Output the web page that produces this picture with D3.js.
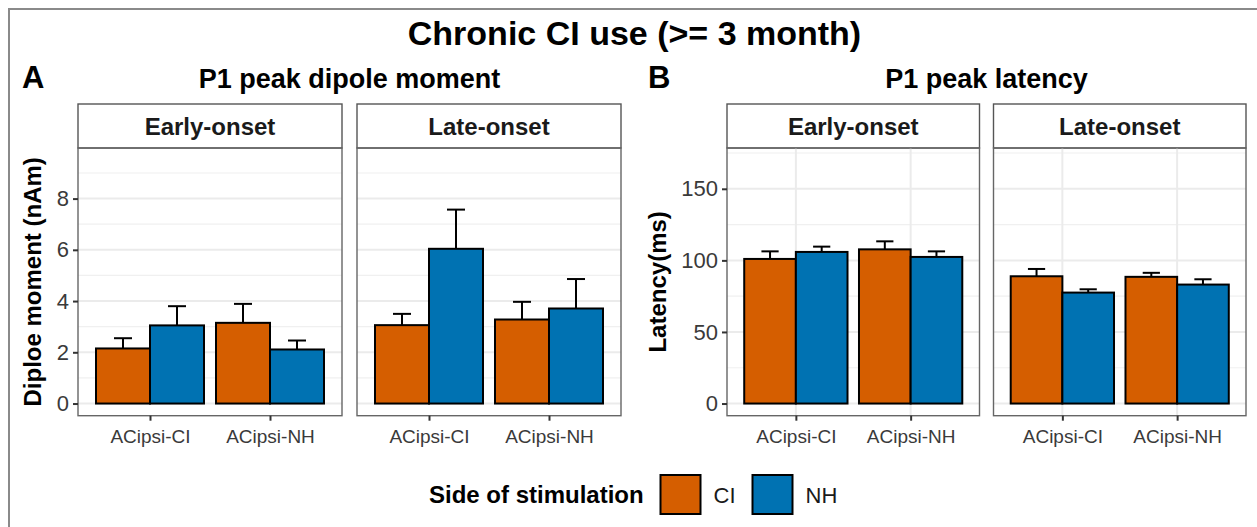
<!DOCTYPE html>
<html>
<head>
<meta charset="utf-8">
<script src="https://cdn.jsdelivr.net/npm/d3@7"></script>
<style>
  html, body { margin: 0; padding: 0; background: #fff; }
  svg { display: block; font-family: "Liberation Sans", Arial, sans-serif; }
</style>
</head>
<body>
<svg id="chart" width="1257" height="527"></svg>
<script>
// ---- data ----
const sides = ['CI', 'NH'];
const sideColors = ['#D55E00', '#0072B2'];
const conditions = ['ACipsi-CI', 'ACipsi-NH'];
const onsetGroups = ['Early-onset', 'Late-onset'];

// P1 peak dipole moment (nAm), values per condition
const dipoleEarlyCI = [2.15, 3.15];
const dipoleEarlyNH = [3.05, 2.11];
const dipoleEarlyCISe = [0.40, 0.74];
const dipoleEarlyNHSe = [0.75, 0.35];
const dipoleLateCI = [3.06, 3.28];
const dipoleLateNH = [6.04, 3.71];
const dipoleLateCISe = [0.44, 0.69];
const dipoleLateNHSe = [1.53, 1.15];

// P1 peak latency (ms)
const latencyEarlyCI = [101.0, 107.7];
const latencyEarlyNH = [105.9, 102.4];
const latencyEarlyCISe = [5.3, 5.6];
const latencyEarlyNHSe = [3.7, 3.9];
const latencyLateCI = [88.9, 88.5];
const latencyLateNH = [77.5, 83.1];
const latencyLateCISe = [5.1, 2.8];
const latencyLateNHSe = [2.3, 3.7];

const dipoleTicks = [0, 2, 4, 6, 8];
const dipoleMinor = [1, 3, 5, 7, 9];
const latencyTicks = [0, 50, 100, 150];
const latencyMinor = [25, 75, 125, 175];

// ---- helpers ----
function rows(ci, nh, ciSe, nhSe) {
    const out = [];
    conditions.forEach((c, i) => {
        out.push({ cond: c, side: 'CI', mean: ci[i], se: ciSe[i] });
        out.push({ cond: c, side: 'NH', mean: nh[i], se: nhSe[i] });
    });
    return out;
}

const svg = d3.select('#chart');
const color = d3.scaleOrdinal().domain(sides).range(sideColors);

const STRIP_TOP = 104;
const PLOT_TOP = 148;
const PLOT_BOTTOM = 415.7;

// Outer frame (bleeds off right and bottom)
svg.append('rect')
    .attr('x', 9).attr('y', 9)
    .attr('width', 1300).attr('height', 600)
    .attr('fill', 'none').attr('stroke', '#8a8a8a').attr('stroke-width', 2);

svg.append('text')
    .attr('x', 634.5).attr('y', 45)
    .attr('text-anchor', 'middle')
    .style('font-size', '34px').style('font-weight', 'bold')
    .text('Chronic CI use (>= 3 month)');

/**
 * Vẽ một nhóm facet (A hoặc B)
 */
function drawPanel(opts) {
    const y = d3.scaleLinear().domain(opts.yDomain).range([PLOT_BOTTOM, PLOT_TOP]);
    const panelRight = opts.left + 2 * opts.facetWidth + opts.gap;

    // tag letter + sub-title
    svg.append('text')
        .attr('x', opts.tagX).attr('y', 88)
        .style('font-size', '31px').style('font-weight', 'bold')
        .text(opts.tag);
    svg.append('text')
        .attr('x', (opts.left + panelRight) / 2).attr('y', 88)
        .attr('text-anchor', 'middle')
        .style('font-size', '27px').style('font-weight', 'bold')
        .text(opts.subtitle);

    // y axis title
    svg.append('text')
        .attr('transform', `translate(${opts.yTitleX}, ${(PLOT_TOP + PLOT_BOTTOM) / 2}) rotate(-90)`)
        .attr('text-anchor', 'middle')
        .style('font-size', '24px').style('font-weight', 'bold')
        .text(opts.yTitle);

    opts.facets.forEach((data, i) => {
        const fx = opts.left + i * (opts.facetWidth + opts.gap);
        const g = svg.append('g').attr('transform', `translate(${fx}, 0)`);
        const x = d3.scalePoint().domain(conditions).range([0, opts.facetWidth]).padding(0.6);
        const step = x.step();
        const barW = step * 0.45;
        const capHalf = step * 0.075;
        const barX = d => x(d.cond) + (d.side === 'CI' ? -barW : 0);

        // strip
        g.append('rect')
            .attr('x', 0).attr('y', STRIP_TOP)
            .attr('width', opts.facetWidth).attr('height', PLOT_TOP - STRIP_TOP)
            .attr('fill', '#fff').attr('stroke', '#555').attr('stroke-width', 1.4);
        g.append('text')
            .attr('x', opts.facetWidth / 2).attr('y', 135)
            .attr('text-anchor', 'middle')
            .style('font-size', '24px').style('font-weight', 'bold').attr('fill', '#1a1a1a')
            .text(onsetGroups[i]);

        // grid
        g.selectAll('.minor').data(opts.minor).join('line')
            .attr('class', 'minor')
            .attr('x1', 0).attr('x2', opts.facetWidth)
            .attr('y1', d => y(d)).attr('y2', d => y(d))
            .attr('stroke', '#f0f0f0').attr('stroke-width', 1.2);
        g.selectAll('.major').data(opts.ticks).join('line')
            .attr('class', 'major')
            .attr('x1', 0).attr('x2', opts.facetWidth)
            .attr('y1', d => y(d)).attr('y2', d => y(d))
            .attr('stroke', '#ebebeb').attr('stroke-width', 2);
        if (opts.vGrid) {
            g.selectAll('.vgrid').data(conditions).join('line')
                .attr('class', 'vgrid')
                .attr('x1', d => x(d)).attr('x2', d => x(d))
                .attr('y1', PLOT_TOP).attr('y2', PLOT_BOTTOM)
                .attr('stroke', '#ebebeb').attr('stroke-width', 2);
        }

        // error bars (drawn under bars so only the upper whisker shows)
        const eb = g.selectAll('.eb').data(data).join('g').attr('class', 'eb')
            .attr('stroke', '#000').attr('stroke-width', 2);
        eb.append('line')
            .attr('x1', d => barX(d) + barW / 2).attr('x2', d => barX(d) + barW / 2)
            .attr('y1', d => y(d.mean - d.se)).attr('y2', d => y(d.mean + d.se));
        eb.append('line')
            .attr('x1', d => barX(d) + barW / 2 - capHalf).attr('x2', d => barX(d) + barW / 2 + capHalf)
            .attr('y1', d => y(d.mean + d.se)).attr('y2', d => y(d.mean + d.se));

        // bars
        g.selectAll('.bar').data(data).join('rect')
            .attr('class', 'bar')
            .attr('x', barX)
            .attr('y', d => y(d.mean))
            .attr('width', barW)
            .attr('height', d => y(0) - y(d.mean))
            .attr('fill', d => color(d.side))
            .attr('stroke', '#000').attr('stroke-width', 2);

        // panel border
        g.append('rect')
            .attr('x', 0).attr('y', PLOT_TOP)
            .attr('width', opts.facetWidth).attr('height', PLOT_BOTTOM - PLOT_TOP)
            .attr('fill', 'none').attr('stroke', '#666').attr('stroke-width', 1.4);

        // x axis
        const xa = g.append('g').attr('transform', `translate(0, ${PLOT_BOTTOM})`)
            .call(d3.axisBottom(x).tickSize(5).tickPadding(9));
        xa.select('.domain').remove();
        xa.selectAll('line').attr('stroke', '#333').attr('stroke-width', 2);
        xa.selectAll('text').attr('fill', '#3a3a3a')
            .style('font-size', '19px').style('font-family', '"Liberation Sans", Arial, sans-serif');

        // y axis (first facet only)
        if (i === 0) {
            const ya = g.append('g')
                .call(d3.axisLeft(y).tickValues(opts.ticks).tickSize(5).tickPadding(4));
            ya.select('.domain').remove();
            ya.selectAll('line').attr('stroke', '#333').attr('stroke-width', 2);
            ya.selectAll('text').attr('fill', '#3a3a3a')
                .style('font-size', '22px').style('font-family', '"Liberation Sans", Arial, sans-serif');
        }
    });
}

drawPanel({
    tag: 'A', tagX: 22,
    subtitle: 'P1 peak dipole moment',
    yTitle: 'Diploe moment (nAm)', yTitleX: 41,
    left: 78, facetWidth: 264, gap: 15,
    yDomain: [-0.475, 9.975],
    ticks: dipoleTicks, minor: dipoleMinor, vGrid: false,
    facets: [
        rows(dipoleEarlyCI, dipoleEarlyNH, dipoleEarlyCISe, dipoleEarlyNHSe),
        rows(dipoleLateCI, dipoleLateNH, dipoleLateCISe, dipoleLateNHSe)
    ]
});

drawPanel({
    tag: 'B', tagX: 648,
    subtitle: 'P1 peak latency',
    yTitle: 'Latency(ms)', yTitleX: 666,
    left: 727, facetWidth: 252.5, gap: 14,
    yDomain: [-8.5, 178.5],
    ticks: latencyTicks, minor: latencyMinor, vGrid: true,
    facets: [
        rows(latencyEarlyCI, latencyEarlyNH, latencyEarlyCISe, latencyEarlyNHSe),
        rows(latencyLateCI, latencyLateNH, latencyLateCISe, latencyLateNHSe)
    ]
});

// ---- legend ----
const legend = svg.append('g');
legend.append('text')
    .attr('x', 429).attr('y', 503)
    .style('font-size', '24px').style('font-weight', 'bold')
    .text('Side of stimulation');
const keys = legend.selectAll('.key').data(sides).join('g')
    .attr('class', 'key')
    .attr('transform', (d, i) => `translate(${660.5 + i * 92}, 475)`);
keys.append('rect')
    .attr('width', 40).attr('height', 39)
    .attr('fill', d => color(d))
    .attr('stroke', '#000').attr('stroke-width', 2);
keys.append('text')
    .attr('x', 53).attr('y', 27.5)
    .style('font-size', '22px').attr('fill', '#1a1a1a')
    .text(d => d);
</script>
</body>
</html>
